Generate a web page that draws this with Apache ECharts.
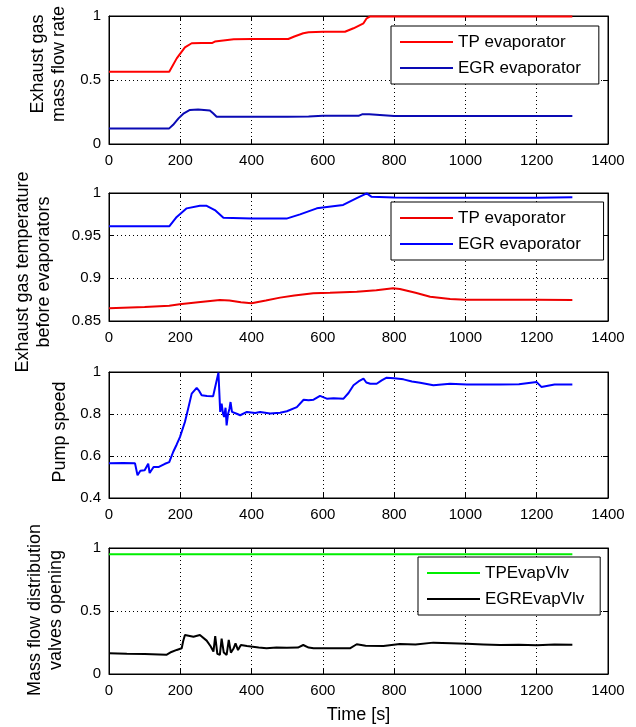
<!DOCTYPE html>
<html>
<head>
<meta charset="utf-8">
<script src="https://cdn.jsdelivr.net/npm/echarts@6/dist/echarts.min.js"></script>
<style>html,body{margin:0;padding:0;background:#fff}#c{width:636px;height:727px}</style>
</head>
<body>
<div id="c"></div>
<script>
// ---- Data ----
var xTicks = [0, 200, 400, 600, 800, 1000, 1200, 1400];

// Panel 1: exhaust gas mass flow rate
var tpFlowT = [0,169,190,213,232,260,290,297,300,350,400,450,503,520,545,560,600,662,686,714,723,733,800,900,1000,1100,1200,1300];
var tpFlowV = [0.565,0.565,0.669,0.755,0.787,0.79,0.79,0.80,0.815,0.818,0.82,0.82,0.82,0.84,0.865,0.873,0.877,0.877,0.904,0.943,0.982,0.997,0.997,0.997,0.997,0.997,0.997,0.997];
var egrFlowT = [0,169,180,195,210,227,250,283,292,302,400,500,560,600,700,710,730,735,800,900,1000,1100,1200,1300];
var egrFlowV = [0.122,0.122,0.15,0.20,0.24,0.266,0.27,0.262,0.24,0.213,0.213,0.213,0.215,0.22,0.22,0.232,0.232,0.217,0.219,0.219,0.219,0.219,0.219,0.219];

// Panel 2: exhaust gas temperature before evaporators
var tpTempT = [0,100,169,198,250,311,338,370,400,440,480,520,573,620,695,750,797,816,860,901,957,1000,1100,1200,1300];
var tpTempV = [0.8649,0.8665,0.868,0.8696,0.872,0.8746,0.874,0.872,0.8707,0.874,0.8774,0.880,0.8824,0.883,0.8844,0.886,0.8883,0.8875,0.883,0.8785,0.8758,0.875,0.8748,0.8748,0.8746];
var egrTempT = [0,169,190,218,255,274,297,321,400,498,536,583,657,695,723,736,800,900,1000,1100,1200,1300];
var egrTempV = [0.961,0.961,0.972,0.982,0.985,0.985,0.980,0.971,0.970,0.970,0.975,0.982,0.986,0.994,0.9996,0.9957,0.9947,0.9945,0.9945,0.9945,0.9945,0.995];

// Panel 3: pump speed
var pumpT = [0,40,73,80,88,100,110,114,125,140,157,169,180,190,199,213,222,232,246,253,260,275,292,297,307,312,316,320,323,327,330,334,338,341,345,350,360,368,387,410,424,452,480,499,527,546,560,574,592,611,630,658,672,686,700,714,722,733,751,765,779,800,826,850,873,910,957,1004,1050,1097,1150,1200,1213,1250,1300];
var pumpV = [0.565,0.567,0.565,0.508,0.53,0.532,0.563,0.519,0.548,0.548,0.563,0.571,0.619,0.655,0.690,0.762,0.825,0.897,0.924,0.91,0.889,0.886,0.884,0.921,0.997,0.81,0.849,0.80,0.786,0.83,0.746,0.80,0.825,0.857,0.81,0.802,0.80,0.794,0.81,0.805,0.81,0.802,0.806,0.813,0.833,0.868,0.865,0.868,0.886,0.873,0.875,0.873,0.9,0.937,0.955,0.968,0.95,0.944,0.944,0.96,0.973,0.97,0.965,0.955,0.949,0.937,0.944,0.941,0.941,0.941,0.942,0.952,0.929,0.94,0.94];

// Panel 4: mass flow distribution valves opening
var tpValveT = [0,1300];
var tpValveV = [0.95,0.95];
var egrValveT = [0,50,100,161,175,190,204,208,213,237,255,274,285,293,298,304,311,316,322,330,336,342,349,355,362,370,387,420,442,470,499,530,545,560,574,620,676,695,720,770,816,860,910,960,1004,1050,1097,1150,1200,1250,1300];
var egrValveV = [0.165,0.16,0.158,0.152,0.175,0.191,0.204,0.26,0.309,0.296,0.309,0.265,0.22,0.178,0.3,0.16,0.152,0.28,0.17,0.152,0.27,0.17,0.2,0.243,0.19,0.23,0.222,0.21,0.204,0.21,0.209,0.21,0.23,0.21,0.204,0.205,0.204,0.236,0.225,0.222,0.238,0.235,0.249,0.245,0.24,0.235,0.230,0.232,0.228,0.235,0.233];

function zip(t, v) { return t.map(function (x, i) { return [x, v[i]]; }); }

var FONT = 'Liberation Sans';
var grids = [
  {left: 109, right: 28, top: 16, height: 128},
  {left: 109, right: 28, top: 193, height: 128},
  {left: 109, right: 28, top: 372, height: 126},
  {left: 109, right: 28, top: 548, height: 126}
];
var yRanges = [[0, 1, 0.5], [0.85, 1, 0.05], [0.4, 1, 0.2], [0, 1, 0.5]];

function plain(v) { return String(Math.round(v * 1000) / 1000); }

var xAxes = [], yAxes = [];
grids.forEach(function (g, i) {
  g.show = true; g.borderColor = '#000'; g.borderWidth = 1; g.backgroundColor = '#fff';
  xAxes.push({
    type: 'value', gridIndex: i, min: xTicks[0], max: xTicks[xTicks.length - 1], interval: 200, position: 'bottom',
    axisLine: {show: true, onZero: false, lineStyle: {color: '#000'}},
    axisTick: {inside: true, length: 5, lineStyle: {color: '#000'}},
    axisLabel: {color: '#000', fontFamily: FONT, fontSize: 15, margin: 9, formatter: plain},
    splitLine: {show: true, lineStyle: {color: '#000', type: [1, 3], width: 1}},
    name: i === 3 ? 'Time [s]' : '', nameLocation: 'middle', nameGap: 32,
    nameTextStyle: {color: '#000', fontFamily: FONT, fontSize: 18}
  });
  xAxes.push({
    type: 'value', gridIndex: i, min: 0, max: 1400, interval: 200, position: 'top',
    axisLine: {show: true, onZero: false, lineStyle: {color: '#000'}},
    axisTick: {inside: true, length: 5, lineStyle: {color: '#000'}},
    axisLabel: {show: false}, splitLine: {show: false}
  });
  var r = yRanges[i];
  yAxes.push({
    type: 'value', gridIndex: i, min: r[0], max: r[1], interval: r[2], position: 'left',
    axisLine: {show: true, onZero: false, lineStyle: {color: '#000'}},
    axisTick: {inside: true, length: 5, lineStyle: {color: '#000'}},
    axisLabel: {color: '#000', fontFamily: FONT, fontSize: 15, margin: 8, formatter: plain},
    splitLine: {show: true, lineStyle: {color: '#000', type: [1, 3], width: 1}}
  });
  yAxes.push({
    type: 'value', gridIndex: i, min: r[0], max: r[1], interval: r[2], position: 'right',
    axisLine: {show: true, onZero: false, lineStyle: {color: '#000'}},
    axisTick: {inside: true, length: 5, lineStyle: {color: '#000'}},
    axisLabel: {show: false}, splitLine: {show: false}
  });
});

function line(name, gi, t, v, color, z) {
  return {
    name: name, type: 'line', xAxisIndex: gi * 2, yAxisIndex: gi * 2,
    data: zip(t, v), showSymbol: false, symbol: 'none', animation: false,
    lineStyle: {color: color, width: 2}, itemStyle: {color: color}, z: z || 2
  };
}

var series = [
  line('TP evaporator', 0, tpFlowT, tpFlowV, '#ff0000'),
  line('EGR evaporator', 0, egrFlowT, egrFlowV, '#0a0ab4'),
  line('TP evaporator ', 1, tpTempT, tpTempV, '#ee0000'),
  line('EGR evaporator ', 1, egrTempT, egrTempV, '#0000ff'),
  line('Pump speed', 2, pumpT, pumpV, '#0000ff'),
  line('TPEvapVlv', 3, tpValveT, tpValveV, '#00ee00'),
  line('EGREvapVlv', 3, egrValveT, egrValveV, '#000000')
];

function legend(names, left, top, padRight) {
  return {
    data: names.map(function (n) { return {name: n, icon: 'rect'}; }),
    orient: 'vertical', left: left, top: top,
    itemWidth: 53, itemHeight: 2, itemGap: 6, itemTextGap: 4,
    padding: [6, padRight, 6, 9],
    backgroundColor: '#fff', borderColor: '#000', borderWidth: 1,
    textStyle: {color: '#000', fontFamily: FONT, fontSize: 17, lineHeight: 20},
    selectedMode: false, z: 10
  };
}

function ylabel(text, x, y) {
  return {
    type: 'text', x: x, y: y, rotation: Math.PI / 2,
    style: {text: text, fill: '#000', font: '18px "' + FONT + '"',
            textAlign: 'center', textVerticalAlign: 'middle', lineHeight: 21}
  };
}

var option = {
  backgroundColor: '#fff',
  animation: false,
  grid: grids,
  xAxis: xAxes,
  yAxis: yAxes,
  legend: [
    legend(['TP evaporator', 'EGR evaporator'], 391, 26, 18),
    legend(['TP evaporator ', 'EGR evaporator '], 391, 202, 18),
    legend(['TPEvapVlv', 'EGREvapVlv'], 418, 557, 16)
  ],
  graphic: [
    ylabel('Exhaust gas\nmass flow rate', 49, 64),
    ylabel('Exhaust gas temperature\nbefore evaporators', 34, 272),
    ylabel('Pump speed', 60, 432),
    ylabel('Mass flow distribution\nvalves opening', 46, 610)
  ],
  series: series
};

var chart = echarts.init(document.getElementById('c'), null, {renderer: 'canvas'});
chart.setOption(option);
</script>
</body>
</html>
